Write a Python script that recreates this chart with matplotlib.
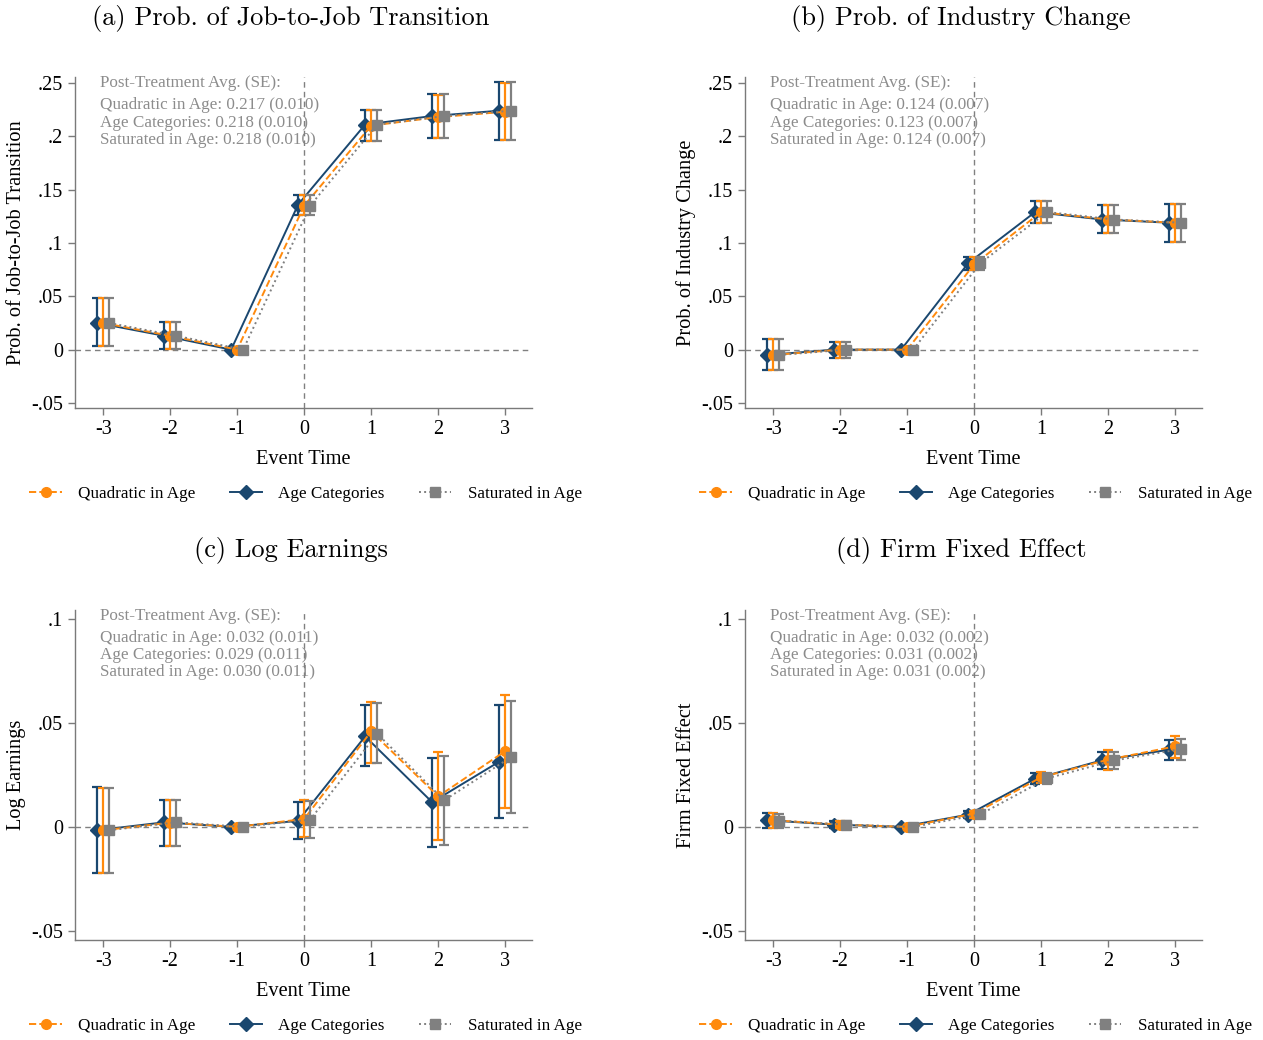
import numpy as np
import matplotlib
matplotlib.use("Agg")
import matplotlib.pyplot as plt
from matplotlib.lines import Line2D

# event time
event_time = [-3, -2, -1, 0, 1, 2, 3]

# (a) job-to-job transition
jj_quad = [0.025, 0.013, 0.0, 0.135, 0.210, 0.218, 0.223]
jj_quad_lo = [0.003, 0.001, 0.0, 0.126, 0.196, 0.198, 0.197]
jj_quad_hi = [0.048, 0.026, 0.0, 0.145, 0.225, 0.239, 0.250]
jj_cat = [0.025, 0.013, 0.0, 0.136, 0.211, 0.219, 0.224]
jj_cat_lo = [0.003, 0.001, 0.0, 0.126, 0.196, 0.198, 0.197]
jj_cat_hi = [0.048, 0.026, 0.0, 0.145, 0.225, 0.240, 0.251]
jj_sat = [0.025, 0.013, 0.0, 0.135, 0.211, 0.219, 0.224]
jj_sat_lo = [0.003, 0.001, 0.0, 0.126, 0.196, 0.198, 0.197]
jj_sat_hi = [0.048, 0.026, 0.0, 0.145, 0.225, 0.240, 0.251]

# (b) industry change
ind_quad = [-0.005, 0.0, 0.0, 0.080, 0.129, 0.122, 0.119]
ind_quad_lo = [-0.019, -0.008, 0.0, 0.075, 0.119, 0.109, 0.101]
ind_quad_hi = [0.010, 0.007, 0.0, 0.087, 0.139, 0.136, 0.137]
ind_cat = [-0.005, 0.0, 0.0, 0.081, 0.129, 0.122, 0.119]
ind_cat_lo = [-0.019, -0.008, 0.0, 0.075, 0.119, 0.109, 0.101]
ind_cat_hi = [0.010, 0.007, 0.0, 0.087, 0.139, 0.136, 0.137]
ind_sat = [-0.005, 0.0, 0.0, 0.081, 0.129, 0.122, 0.119]
ind_sat_lo = [-0.019, -0.008, 0.0, 0.075, 0.119, 0.109, 0.101]
ind_sat_hi = [0.010, 0.007, 0.0, 0.087, 0.139, 0.136, 0.137]

# (c) log earnings
le_quad = [-0.0016, 0.0020, 0.0, 0.0038, 0.0460, 0.0147, 0.0365]
le_quad_lo = [-0.0224, -0.0090, 0.0, -0.0048, 0.0310, -0.0064, 0.0093]
le_quad_hi = [0.0186, 0.0128, 0.0, 0.0128, 0.0603, 0.0359, 0.0636]
le_cat = [-0.0016, 0.0022, 0.0, 0.0029, 0.0436, 0.0119, 0.0314]
le_cat_lo = [-0.0224, -0.0090, 0.0, -0.0058, 0.0292, -0.0096, 0.0042]
le_cat_hi = [0.0190, 0.0131, 0.0, 0.0119, 0.0585, 0.0330, 0.0585]
le_sat = [-0.0016, 0.0022, 0.0, 0.0035, 0.0449, 0.0128, 0.0337]
le_sat_lo = [-0.0224, -0.0090, 0.0, -0.0053, 0.0306, -0.0085, 0.0067]
le_sat_hi = [0.0186, 0.0131, 0.0, 0.0125, 0.0595, 0.0340, 0.0606]

# (d) firm fixed effect
ffe_quad = [0.0032, 0.0011, 0.0, 0.0064, 0.0239, 0.0324, 0.0388]
ffe_quad_lo = [-0.0003, -0.0006, 0.0, 0.0045, 0.0210, 0.0276, 0.0333]
ffe_quad_hi = [0.0066, 0.0027, 0.0, 0.0078, 0.0265, 0.0369, 0.0436]
ffe_cat = [0.0032, 0.0011, 0.0, 0.0059, 0.0232, 0.0321, 0.0372]
ffe_cat_lo = [-0.0003, -0.0006, 0.0, 0.0043, 0.0207, 0.0280, 0.0324]
ffe_cat_hi = [0.0066, 0.0027, 0.0, 0.0075, 0.0260, 0.0360, 0.0420]
ffe_sat = [0.0030, 0.0011, 0.0, 0.0060, 0.0234, 0.0320, 0.0375]
ffe_sat_lo = [-0.0003, -0.0006, 0.0, 0.0044, 0.0208, 0.0278, 0.0324]
ffe_sat_hi = [0.0064, 0.0027, 0.0, 0.0076, 0.0262, 0.0362, 0.0425]

titles = ["(a) Prob. of Job-to-Job Transition", "(b) Prob. of Industry Change",
          "(c) Log Earnings", "(d) Firm Fixed Effect"]
ylabels = ["Prob. of Job-to-Job Transition", "Prob. of Industry Change",
           "Log Earnings", "Firm Fixed Effect"]
post_avg = [
    ["Quadratic in Age: 0.217 (0.010)", "Age Categories: 0.218 (0.010)", "Saturated in Age: 0.218 (0.010)"],
    ["Quadratic in Age: 0.124 (0.007)", "Age Categories: 0.123 (0.007)", "Saturated in Age: 0.124 (0.007)"],
    ["Quadratic in Age: 0.032 (0.011)", "Age Categories: 0.029 (0.011)", "Saturated in Age: 0.030 (0.011)"],
    ["Quadratic in Age: 0.032 (0.002)", "Age Categories: 0.031 (0.002)", "Saturated in Age: 0.031 (0.002)"],
]
yticks = [[-0.05, 0, 0.05, 0.1, 0.15, 0.2, 0.25]] * 2 + [[-0.05, 0, 0.05, 0.1]] * 2
ytick_labels = [["-.05", "0", ".05", ".1", ".15", ".2", ".25"]] * 2 + [["-.05", "0", ".05", ".1"]] * 2
ylims = [(-0.0547, 0.2556)] * 2 + [(-0.0545, 0.1045)] * 2

panels = [
    [(jj_quad, jj_quad_lo, jj_quad_hi), (jj_cat, jj_cat_lo, jj_cat_hi), (jj_sat, jj_sat_lo, jj_sat_hi)],
    [(ind_quad, ind_quad_lo, ind_quad_hi), (ind_cat, ind_cat_lo, ind_cat_hi), (ind_sat, ind_sat_lo, ind_sat_hi)],
    [(le_quad, le_quad_lo, le_quad_hi), (le_cat, le_cat_lo, le_cat_hi), (le_sat, le_sat_lo, le_sat_hi)],
    [(ffe_quad, ffe_quad_lo, ffe_quad_hi), (ffe_cat, ffe_cat_lo, ffe_cat_hi), (ffe_sat, ffe_sat_lo, ffe_sat_hi)],
]

series_names = ["Quadratic in Age", "Age Categories", "Saturated in Age"]
colors = ["#ff8a0d", "#1a476f", "#808080"]
markers = ["o", "D", "s"]
styles = ["--", "-", ":"]
offsets = [0.0, -0.09, 0.09]
msizes = [7, 7, 7.5]
zorders = [4, 3, 5]

plt.rcParams["font.family"] = "Liberation Serif"

fig = plt.figure(figsize=(12.63, 10.40), dpi=100)
W, H = 1263.0, 1040.0

# axes boxes in pixels: left, top, right, bottom
boxes = [(75, 77, 532, 408), (745, 77, 1202, 408), (75, 610, 532, 940), (745, 610, 1202, 940)]
title_pos = [(291, 18), (961, 18), (291, 550), (961, 550)]
legend_y = [494, 1026]

x = np.array(event_time, dtype=float)

for k in range(4):
    l, t, r, b = boxes[k]
    ax = fig.add_axes([l / W, 1 - b / H, (r - l) / W, (b - t) / H])
    ax.axhline(0, color="#808080", ls=(0, (4, 3)), lw=1.0, zorder=1)
    ax.axvline(0, color="#808080", ls=(0, (4, 3)), lw=1.0, zorder=1)

    for s in range(3):
        est, lo, hi = (np.array(v) for v in panels[k][s])
        xs = x + offsets[s]
        ax.plot(xs, est, color=colors[s], ls=styles[s], lw=1.4, zorder=zorders[s])
        mask = x != -1
        ax.errorbar(xs[mask], est[mask], yerr=[est[mask] - lo[mask], hi[mask] - est[mask]],
                    fmt="none", ecolor=colors[s], elinewidth=1.6, capsize=3.5,
                    capthick=1.6, zorder=zorders[s])
        ax.plot(xs, est, ls="none", marker=markers[s], ms=msizes[s], color=colors[s],
                mec=colors[s], zorder=zorders[s] + 0.5)

    ax.set_xlim(-3.42, 3.40)
    ax.set_ylim(*ylims[k])
    ax.set_xticks(event_time)
    ax.set_xticklabels([str(v) for v in event_time])
    ax.set_yticks(yticks[k])
    ax.set_yticklabels(ytick_labels[k])
    for side in ["top", "right"]:
        ax.spines[side].set_visible(False)
    for side in ["left", "bottom"]:
        ax.spines[side].set_color("#7a7a7a")
        ax.spines[side].set_linewidth(1.0)
    ax.tick_params(axis="both", colors="#7a7a7a", labelcolor="black", labelsize=14.5, length=5, width=1.0)
    ax.set_xlabel("Event Time", fontsize=14.7, labelpad=8)
    ax.set_ylabel(ylabels[k], fontsize=14.7, labelpad=4)

    ax.text(0.055, 0.982, "Post-Treatment Avg. (SE):", transform=ax.transAxes,
            color="#8c8c8c", fontsize=12.3, va="center", ha="left", zorder=0)
    for j, line in enumerate(post_avg[k]):
        ax.text(0.055, 0.914 - j * 0.0515, line, transform=ax.transAxes,
                color="#8c8c8c", fontsize=12.3, va="center", ha="left", zorder=0)

    tx, ty = title_pos[k]
    fig.text(tx / W, 1 - ty / H, titles[k], family="cmr10", fontsize=19,
             ha="center", va="center")

    handles = [Line2D([0], [0], color=colors[s], ls=styles[s], marker=markers[s], ms=msizes[s],
                      lw=1.4) for s in range(3)]
    ly = legend_y[k // 2]
    cx = (l + r) / 2 + 2
    fig.legend(handles, series_names, loc="center", ncol=3, frameon=False,
               bbox_to_anchor=(cx / W, 1 - ly / H), fontsize=12.3, handlelength=1.9,
               columnspacing=2.0, handletextpad=0.95)

fig.savefig("out.png", dpi=100)
